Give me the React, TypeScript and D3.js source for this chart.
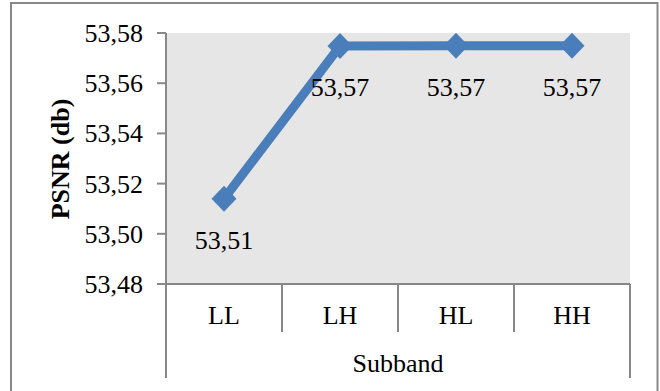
import React from "react";
import * as d3 from "d3";

const categories = ["LL", "LH", "HL", "HH"];
const psnrValues = [53.514, 53.5748, 53.5749, 53.5749];
const yTicks = [53.48, 53.5, 53.52, 53.54, 53.56, 53.58];
const yTitle = "PSNR (db)";
const xTitle = "Subband";

const W = 660;
const H = 391;
const FONT = "Liberation Serif, Times New Roman, serif";
const AXIS = "#888888";
const LINE = "#4a7ebb";

const fmt = (v: number) => d3.format(".2f")(v).replace(".", ",");

export default function App() {
  const plot = { left: 166, right: 630, top: 33, bottom: 284 };
  const x = d3.scaleBand<string>().domain(categories).range([plot.left, plot.right]).paddingInner(0).paddingOuter(0);
  const y = d3.scaleLinear().domain([53.48, 53.58]).range([plot.bottom, plot.top]);

  const pts = categories.map((c, i) => ({
    c,
    v: psnrValues[i],
    px: (x(c) as number) + x.bandwidth() / 2,
    py: y(psnrValues[i]),
  }));
  const line = d3
    .line<{ px: number; py: number }>()
    .x((d) => d.px)
    .y((d) => d.py);

  const boundaries = categories.map((c) => x(c) as number).concat([plot.right]);
  const diamond = (cx: number, cy: number) => {
    const hw = 12.5;
    const hh = 13;
    return `M${cx},${cy - hh}L${cx + hw},${cy}L${cx},${cy + hh}L${cx - hw},${cy}Z`;
  };
  const ts = { fontFamily: FONT };

  return (
    <div style={{ position: "absolute", left: 0, top: 0 }}>
      <svg width={W} height={H} style={{ display: "block" }}>
        <rect x={0} y={0} width={W} height={H} fill="#ffffff" />
        <rect x={11} y={3} width={646.5} height={400} fill="none" stroke={AXIS} strokeWidth={2} />
        <rect
          x={plot.left}
          y={plot.top}
          width={plot.right - plot.left}
          height={plot.bottom - plot.top}
          fill="#e6e6e6"
        />
        <line x1={plot.left} x2={plot.left} y1={plot.top} y2={plot.bottom} stroke={AXIS} strokeWidth={2} />
        {yTicks.map((t) => (
          <g key={t}>
            <line x1={plot.left - 9} x2={plot.left} y1={y(t)} y2={y(t)} stroke={AXIS} strokeWidth={2} />
            <text x={143} y={y(t) + 9} textAnchor="end" fontSize={26} fill="#000" style={ts}>
              {fmt(t)}
            </text>
          </g>
        ))}
        <line x1={plot.left - 9} x2={plot.right} y1={plot.bottom} y2={plot.bottom} stroke={AXIS} strokeWidth={2} />
        {boundaries.map((b, i) => (
          <line
            key={i}
            x1={b}
            x2={b}
            y1={plot.bottom}
            y2={i === 0 || i === boundaries.length - 1 ? 378 : 332}
            stroke={AXIS}
            strokeWidth={2}
          />
        ))}
        {categories.map((c) => (
          <text
            key={c}
            x={(x(c) as number) + x.bandwidth() / 2}
            y={324}
            textAnchor="middle"
            fontSize={26}
            fill="#000"
            style={ts}
          >
            {c}
          </text>
        ))}
        <text x={(plot.left + plot.right) / 2} y={372} textAnchor="middle" fontSize={26} fill="#000" style={ts}>
          {xTitle}
        </text>
        <text
          transform={`translate(69,159) rotate(-90)`}
          textAnchor="middle"
          fontSize={26}
          fontWeight="bold"
          fill="#000"
          style={ts}
        >
          {yTitle}
        </text>
        <path d={line(pts) || ""} fill="none" stroke={LINE} strokeWidth={9} strokeLinejoin="round" />
        {pts.map((p) => (
          <path key={p.c} d={diamond(p.px, p.py)} fill={LINE} />
        ))}
        {pts.map((p) => (
          <text key={"l" + p.c} x={p.px} y={p.py + 50} textAnchor="middle" fontSize={26} fill="#000" style={ts}>
            {fmt(p.v)}
          </text>
        ))}
      </svg>
    </div>
  );
}
